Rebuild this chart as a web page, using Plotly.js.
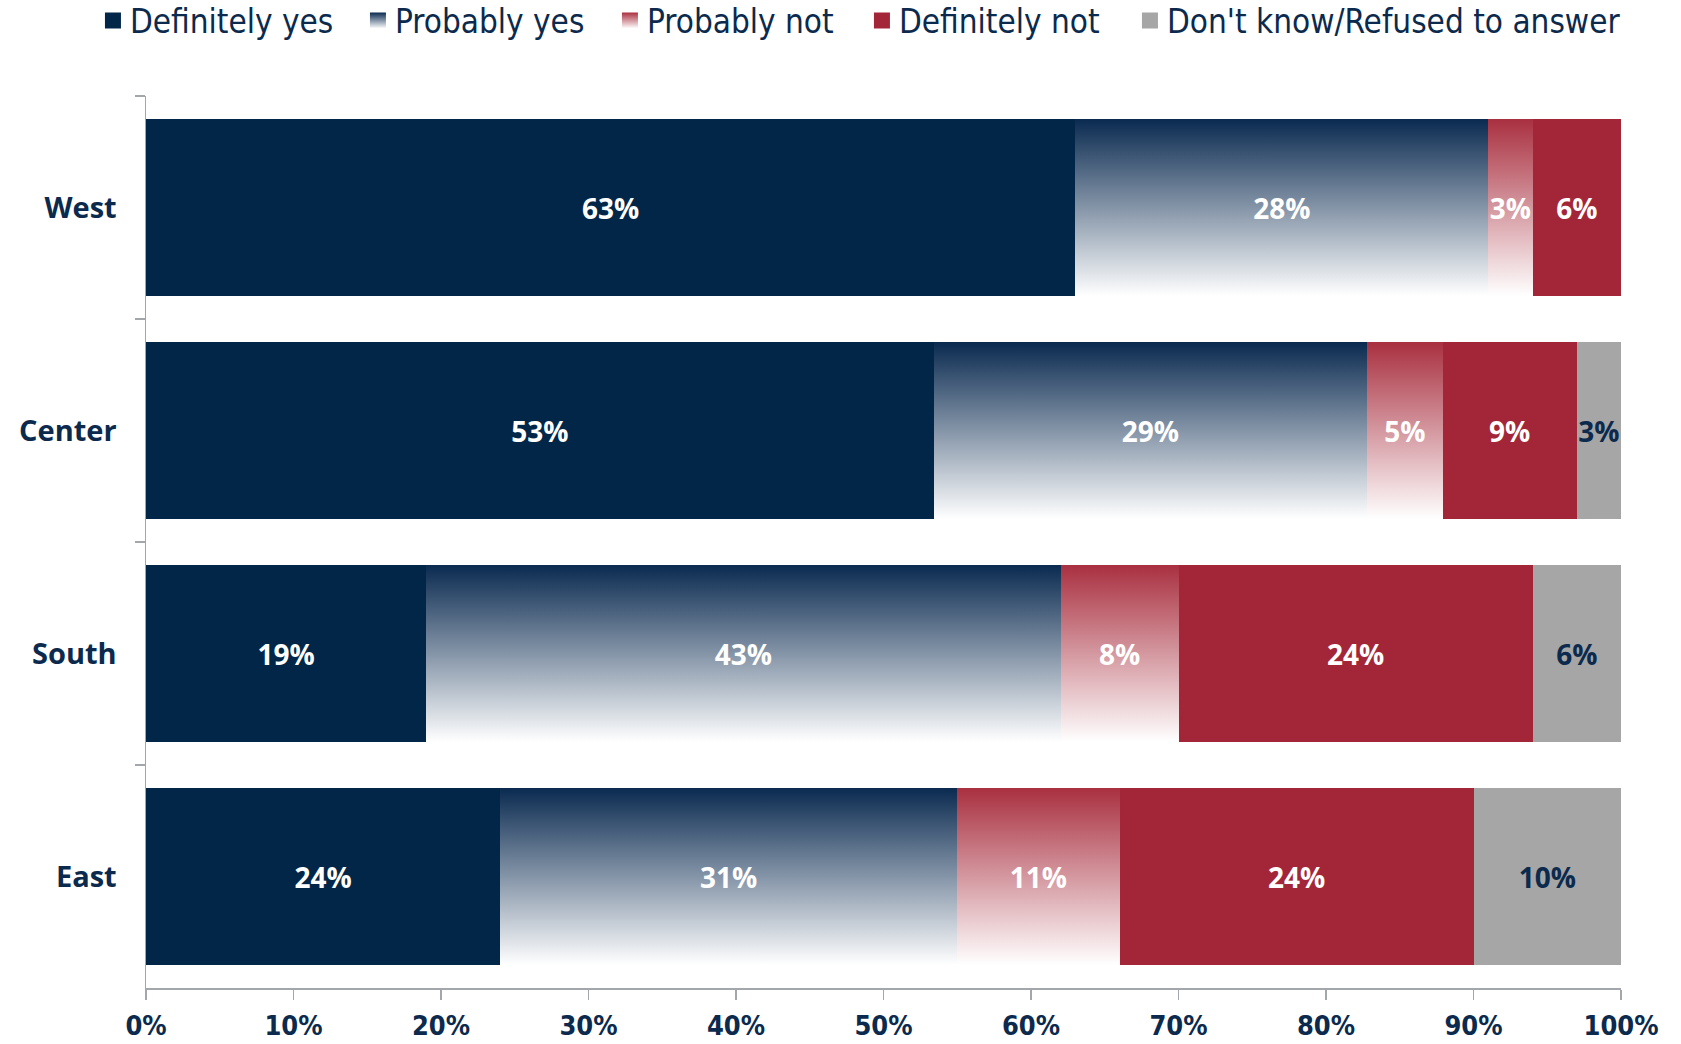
<!DOCTYPE html>
<html>
<head>
<meta charset="utf-8">
<script src="https://cdn.plot.ly/plotly-3.0.1.min.js"></script>
<style>
  html, body { margin: 0; padding: 0; background: #ffffff; }
  #chart { width: 1681px; height: 1044px; }
</style>
</head>
<body>
<div id="chart"></div>
<script>
// ---- data ----
const regions = ['West', 'Center', 'South', 'East'];
const definitelyYes = [63, 53.4, 19, 24];
const probablyYes = [28, 29.4, 43, 31];
const probablyNot = [3, 5.1, 8, 11];
const definitelyNot = [6, 9.1, 24, 24];
const dontKnow = [null, 3, 6, 10];
const seriesNames = ['Definitely yes', 'Probably yes', 'Probably not', 'Definitely not', "Don't know/Refused to answer"];
const xTickValues = [0, 10, 20, 30, 40, 50, 60, 70, 80, 90, 100];
const xTickLabels = ['0%', '10%', '20%', '30%', '40%', '50%', '60%', '70%', '80%', '90%', '100%'];

// ---- styles ----
const NAVY = '#022648';
const RED = '#a32638';
const GREY = '#a6a6a6';
const TEXT = '#0b2a4d';
const AXIS = '#a3a6ab';
const CONDENSED = 'DejaVu Sans Condensed, Liberation Sans Narrow, sans-serif';
const seriesValues = [definitelyYes, probablyYes, probablyNot, definitelyNot, dontKnow];
const seriesColors = [NAVY, '#5a7189', '#d47f8a', RED, GREY];
const labelColors = ['#ffffff', '#ffffff', '#ffffff', '#ffffff', TEXT];
const legendWidths = [220, 207, 207, 223, 0];

const data = seriesValues.map((vals, i) => ({
  type: 'bar',
  orientation: 'h',
  name: seriesNames[i],
  y: regions,
  x: vals,
  marker: { color: seriesColors[i], line: { width: 0 } },
  texttemplate: '%{x:.0f}%',
  textposition: 'inside',
  insidetextanchor: 'middle',
  constraintext: 'none',
  textangle: 0,
  textfont: { family: 'Open Sans, sans-serif', size: 28, weight: 'bold', color: labelColors[i] },
  legendwidth: legendWidths[i] || undefined,
  hoverinfo: 'skip'
}));

const layout = {
  width: 1681,
  height: 1044,
  margin: { l: 146, r: 60, t: 96, b: 56, pad: 0, autoexpand: false },
  paper_bgcolor: '#ffffff',
  plot_bgcolor: '#ffffff',
  barmode: 'stack',
  bargap: 0.206,
  showlegend: true,
  legend: {
    orientation: 'h',
    traceorder: 'normal',
    xref: 'paper', yref: 'paper',
    x: -0.038, xanchor: 'left',
    y: 1.116, yanchor: 'top',
    font: { family: CONDENSED, size: 33, color: TEXT },
    bgcolor: 'rgba(0,0,0,0)',
    borderwidth: 0
  },
  xaxis: {
    range: [0, 100],
    tickmode: 'array',
    tickvals: xTickValues,
    ticktext: xTickLabels,
    showgrid: false,
    zeroline: false,
    showline: true,
    linecolor: AXIS,
    linewidth: 1.5,
    ticks: 'outside',
    ticklen: 10,
    tickwidth: 1.5,
    tickcolor: AXIS,
    ticklabelstandoff: 3,
    tickfont: { family: CONDENSED, size: 27, weight: 'bold', color: TEXT },
    fixedrange: true
  },
  yaxis: {
    autorange: 'reversed',
    type: 'category',
    showgrid: false,
    zeroline: false,
    showline: true,
    linecolor: AXIS,
    linewidth: 1.5,
    ticks: 'outside',
    tickson: 'boundaries',
    ticklen: 10,
    tickwidth: 1.5,
    tickcolor: AXIS,
    ticklabelstandoff: 22,
    tickfont: { family: 'Open Sans, sans-serif', size: 29, weight: 'bold', color: TEXT },
    fixedrange: true
  }
};

function addGradient(defs, id, top) {
  const ns = 'http://www.w3.org/2000/svg';
  const g = document.createElementNS(ns, 'linearGradient');
  g.setAttribute('id', id);
  g.setAttribute('x1', '0'); g.setAttribute('y1', '0');
  g.setAttribute('x2', '0'); g.setAttribute('y2', '1');
  [[0, top], [1, '#ffffff']].forEach(([o, c]) => {
    const s = document.createElementNS(ns, 'stop');
    s.setAttribute('offset', o);
    s.setAttribute('stop-color', c);
    g.appendChild(s);
  });
  defs.appendChild(g);
}

function applyGradients(gd) {
  const svg = gd.querySelector('svg.main-svg');
  let defs = svg.querySelector('defs');
  if (!defs) { defs = document.createElementNS('http://www.w3.org/2000/svg', 'defs'); svg.insertBefore(defs, svg.firstChild); }
  addGradient(defs, 'gradPY', '#0a2a50');
  addGradient(defs, 'gradPN', '#a93040');
  const fills = { 1: 'url(#gradPY)', 2: 'url(#gradPN)' };
  const traces = gd.querySelectorAll('.barlayer .trace.bars');
  traces.forEach((t, i) => {
    if (fills[i]) t.querySelectorAll('.point path').forEach(p => { p.style.fill = fills[i]; });
  });
  gd.querySelectorAll('.legend .traces').forEach(item => {
    const txt = item.querySelector('.legendtext').textContent;
    const idx = seriesNames.indexOf(txt);
    item.querySelectorAll('.legendpoints path').forEach(p => {
      p.setAttribute('d', 'M11,8H-5V-8H11Z');
      if (fills[idx]) p.style.fill = fills[idx];
    });
  });
}

Plotly.newPlot('chart', data, layout, { displayModeBar: false, staticPlot: true }).then(applyGradients);
</script>
</body>
</html>
